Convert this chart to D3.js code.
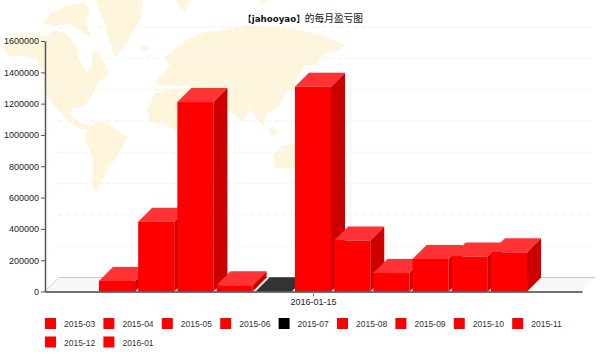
<!DOCTYPE html>
<html>
<head>
<meta charset="utf-8">
<script src="https://cdn.jsdelivr.net/npm/d3@7"></script>
<style>
  html, body { margin: 0; padding: 0; background: #fff; }
  text { font-family: "Liberation Sans", sans-serif; }
</style>
</head>
<body>
<div id="chart"></div>
<script>
// Chart data
const groups = ["2016-01-15"];
const months = ["2015-03", "2015-04", "2015-05", "2015-06", "2015-07", "2015-08",
  "2015-09", "2015-10", "2015-11", "2015-12", "2016-01"];
const profits = [67000, 446000, 1210000, 40000, 1000, 1307000, 325000, 118000, 208000, 223000, 250000];
const yTicks = [0, 200000, 400000, 600000, 800000, 1000000, 1200000, 1400000, 1600000];

// Rough continent outlines for the faded background map
const continents = [
  [[2,47],[12,37],[28,32],[44,37],[56,30],[66,34],[78,48],[78,58],[86,72],[92,66],[92,52],[98,52],[104,62],[110,74],[100,80],[92,95],[85,105],[80,108],[72,109],[70,113],[78,122],[88,125],[95,133],[88,130],[80,129],[70,122],[57,110],[45,93],[43,72],[36,60],[22,56],[8,56]],
  [[42,24],[52,12],[66,6],[84,2],[90,12],[86,24],[92,38],[82,32],[70,24],[56,26]],
  [[95,0],[143,0],[140,20],[126,44],[115,57],[109,40],[103,20]],
  [[140,47],[146,45],[150,49],[144,52]],
  [[85,133],[95,122],[105,122],[128,138],[120,152],[108,170],[98,187],[97,193],[92,187],[93,160],[87,143]],
  [[147,110],[155,93],[175,88],[205,90],[226,100],[226,150],[200,195],[190,190],[185,150],[178,132],[165,125],[150,122]],
  [[155,85],[160,76],[170,66],[164,58],[176,48],[190,38],[205,32],[225,30],[250,25],[290,28],[320,35],[345,45],[340,50],[325,54],[315,65],[305,65],[296,80],[298,88],[287,90],[278,108],[267,112],[263,127],[250,109],[242,122],[228,110],[222,100],[205,92],[190,86],[175,86]],
  [[268,130],[273,127],[279,133],[272,136]],
  [[273,155],[282,146],[300,143],[315,160],[305,172],[290,168],[275,168]],
  [[176,0],[190,0],[186,12],[180,8]],
  [[258,0],[268,0],[264,5]]
];

const width = 600, height = 358;
const depth = 14;
const plot = { left: 45, right: 582, top: 41, bottom: 291.5 };

const legendColor = d => d === "2015-07" ? "#000000" : "#ff0000";

const svg = d3.select("#chart").append("svg")
  .attr("width", width)
  .attr("height", height)
  .style("display", "block");

svg.append("defs").append("filter").attr("id", "soft")
  .append("feGaussianBlur").attr("stdDeviation", 0.6);

// Background map
const line = d3.line().curve(d3.curveLinearClosed);
svg.append("g")
  .attr("filter", "url(#soft)")
  .selectAll("path")
  .data(continents)
  .enter().append("path")
  .attr("d", line)
  .attr("fill", "#fdf6dd");

const y = d3.scaleLinear().domain([0, 1600000]).range([plot.bottom, plot.top]);
const xOuter = d3.scaleBand().domain(groups).range([plot.left, plot.right]);
const xInner = d3.scaleBand().domain(months).range([97.4, 528.6])
  .paddingInner(0.08).paddingOuter(0.04);

// Floor
svg.append("path")
  .attr("d", line([[plot.left, plot.bottom], [plot.left + depth, plot.bottom - depth],
    [plot.right + depth, plot.bottom - depth], [plot.right, plot.bottom]]))
  .attr("fill", "#f8f8f8");
svg.append("line")
  .attr("x1", plot.left + depth).attr("x2", plot.right + depth - 1)
  .attr("y1", plot.bottom - depth).attr("y2", plot.bottom - depth)
  .attr("stroke", "#c8c8c8");
svg.append("line")
  .attr("x1", plot.left).attr("x2", plot.left + depth)
  .attr("y1", plot.bottom).attr("y2", plot.bottom - depth)
  .attr("stroke", "#d0d0d0");

// Grid lines on the back wall, with the short diagonal on the side wall
const grid = svg.append("g");
grid.selectAll(".back")
  .data(yTicks.slice(1))
  .enter().append("line")
  .attr("class", "back")
  .attr("x1", plot.left + depth).attr("x2", 592)
  .attr("y1", d => y(d) - depth).attr("y2", d => y(d) - depth)
  .attr("stroke", "#eeeeee")
  .attr("stroke-dasharray", "4,4");
grid.selectAll(".side")
  .data(yTicks.slice(1))
  .enter().append("line")
  .attr("class", "side")
  .attr("x1", plot.left).attr("x2", plot.left + depth)
  .attr("y1", d => y(d)).attr("y2", d => y(d) - depth)
  .attr("stroke", "#f4f4f4")
  .attr("stroke-dasharray", "3,3");

// 3D bars, left to right so each one covers the side of the previous one
const bars = svg.append("g").selectAll("g")
  .data(months.map((m, i) => ({ month: m, value: profits[i] })))
  .enter().append("g");

bars.append("path") // side
  .attr("d", d => {
    const x1 = xInner(d.month) + xInner.bandwidth();
    return line([[x1, y(d.value)], [x1 + depth, y(d.value) - depth],
      [x1 + depth, y(0) - depth], [x1, y(0)]]);
  })
  .attr("fill", d => d.month === "2015-07" ? "#000000" : "#cc0000");

bars.append("path") // top
  .attr("d", d => {
    const x0 = xInner(d.month), x1 = x0 + xInner.bandwidth();
    return line([[x0, y(d.value)], [x0 + depth, y(d.value) - depth],
      [x1 + depth, y(d.value) - depth], [x1, y(d.value)]]);
  })
  .attr("fill", d => d.month === "2015-07" ? "#333333" : "#ff3333");

bars.append("rect") // front
  .attr("x", d => xInner(d.month))
  .attr("y", d => y(d.value))
  .attr("width", xInner.bandwidth())
  .attr("height", d => y(0) - y(d.value))
  .attr("fill", d => legendColor(d.month));

// Axes
const yAxis = svg.append("g")
  .attr("transform", `translate(${plot.left},0)`)
  .call(d3.axisLeft(y).tickValues(yTicks).tickFormat(d3.format("d")).tickSize(4).tickPadding(2).tickSizeOuter(0));
yAxis.select(".domain").attr("stroke", "#555").attr("stroke-width", 1.5);
yAxis.selectAll(".tick line").attr("stroke", "#555");
yAxis.selectAll("text").attr("fill", "#222").style("font-size", "9px");

const xAxis = svg.append("g")
  .attr("transform", `translate(0,${plot.bottom})`)
  .call(d3.axisBottom(xOuter).tickSize(5).tickPadding(2).tickSizeOuter(0));
xAxis.select(".domain").attr("stroke", "#444").attr("stroke-width", 1.5);
xAxis.selectAll(".tick line").attr("stroke", "#888");
xAxis.selectAll("text").attr("fill", "#222").style("font-size", "9px");

// Title
const title = svg.append("text")
  .attr("x", 243).attr("y", 22)
  .attr("fill", "#111");
title.append("tspan")
  .style("font-family", "'DejaVu Sans', 'Noto Sans CJK SC', sans-serif")
  .style("font-size", "8.7px")
  .style("font-weight", "bold")
  .text("【jahooyao】");
title.append("tspan")
  .style("font-family", "'Noto Sans CJK SC', sans-serif")
  .style("font-size", "9.7px")
  .text("的每月盈亏图");

// Legend, nine items to a row
const legend = svg.append("g").selectAll("g")
  .data(months)
  .enter().append("g")
  .attr("transform", (d, i) => `translate(${45 + (i % 9) * 58.4},${318 + Math.floor(i / 9) * 18.5})`);
legend.append("rect")
  .attr("width", 11).attr("height", 11)
  .attr("fill", legendColor);
legend.append("text")
  .attr("x", 19).attr("y", 9)
  .attr("fill", "#333")
  .style("font-size", "8.5px")
  .text(d => d);
</script>
</body>
</html>
